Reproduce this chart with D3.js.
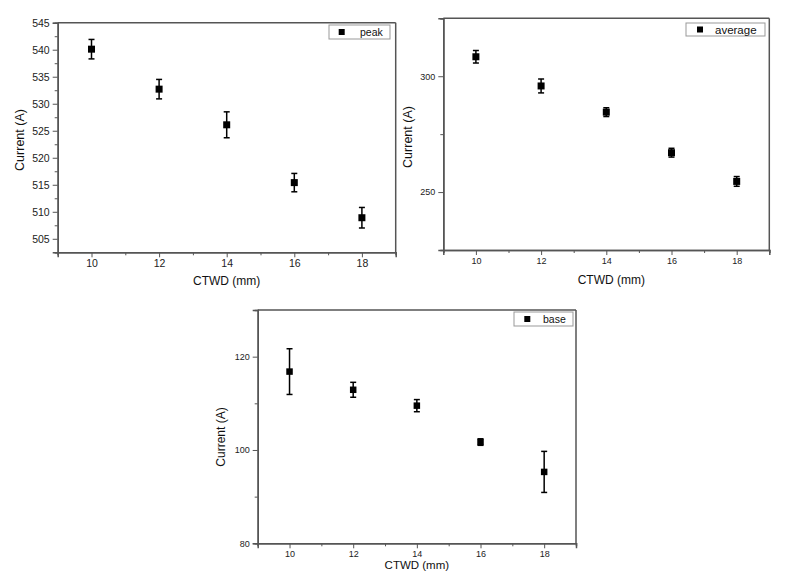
<!DOCTYPE html>
<html>
<head>
<meta charset="utf-8">
<script src="https://cdn.jsdelivr.net/npm/d3@7"></script>
<style>
  html, body { margin: 0; padding: 0; background: #fff; }
  svg { display: block; font-family: "Liberation Sans", Arial, sans-serif; }
</style>
</head>
<body>
<svg id="chart" width="791" height="583"></svg>
<script>
// ---- data ----
const ctwd = [10, 12, 14, 16, 18];
const xTicks = [10, 12, 14, 16, 18];

const peakValues = [540.1, 532.7, 526.1, 515.4, 508.9];
const peakErrors = [1.8, 1.8, 2.4, 1.7, 1.9];
const peakTicks = [505, 510, 515, 520, 525, 530, 535, 540, 545];

const averageValues = [308.4, 295.8, 284.5, 267.0, 254.6];
const averageErrors = [2.7, 3.0, 1.9, 1.9, 2.1];
const averageTicks = [250, 300];

const baseValues = [116.8, 112.9, 109.5, 101.7, 95.3];
const baseErrors = [4.9, 1.6, 1.3, 0.7, 4.4];
const baseTicks = [80, 100, 120];

const svg = d3.select("#chart");

function drawPanel(cfg) {
  const g = svg.append("g");
  const x = d3.scaleLinear().domain([9, 19]).range([cfg.left, cfg.right]);
  const y = d3.scaleLinear().domain(cfg.yDomain).range([cfg.bottom, cfg.top]);
  const axisColor = "#555";

  // frame (top & right)
  g.append("line").attr("x1", cfg.left).attr("x2", cfg.right).attr("y1", cfg.top).attr("y2", cfg.top)
    .attr("stroke", axisColor).attr("stroke-width", 1.5);
  g.append("line").attr("x1", cfg.right).attr("x2", cfg.right).attr("y1", cfg.top).attr("y2", cfg.bottom)
    .attr("stroke", axisColor).attr("stroke-width", 1.5);

  // minor ticks
  const xMinor = d3.range(9, 19.01, 1).filter(v => !xTicks.includes(v));
  const xMinorAxis = d3.axisBottom(x).tickValues(xMinor).tickSize(3).tickFormat("");
  const ga1 = g.append("g").attr("transform", `translate(0,${cfg.bottom})`).call(xMinorAxis);
  const yMinorAxis = d3.axisLeft(y).tickValues(cfg.yMinor).tickSize(3).tickFormat("");
  const ga2 = g.append("g").attr("transform", `translate(${cfg.left},0)`).call(yMinorAxis);

  // major axes
  const xAxis = d3.axisBottom(x).tickValues(xTicks).tickSize(5).tickPadding(cfg.xPad).tickFormat(d3.format("d"));
  const gx = g.append("g").attr("transform", `translate(0,${cfg.bottom})`).call(xAxis);
  const yAxis = d3.axisLeft(y).tickValues(cfg.yTicks).tickSize(5).tickPadding(3).tickFormat(d3.format("d"));
  const gy = g.append("g").attr("transform", `translate(${cfg.left},0)`).call(yAxis);

  [ga1, ga2, gx, gy].forEach(a => {
    a.select(".domain").attr("stroke", axisColor).attr("stroke-width", 1.5);
    a.selectAll(".tick line").attr("stroke", axisColor).attr("stroke-width", 1);
    a.selectAll(".tick text").attr("fill", "#222").style("font-size", cfg.tickFont + "px")
      .style("font-family", "'Liberation Sans', Arial, sans-serif");
  });

  // error bars
  const cap = 3;
  const eb = g.append("g");
  ctwd.forEach((c, i) => {
    const v = cfg.values[i], e = cfg.errors[i];
    const cx = x(c);
    eb.append("line").attr("x1", cx).attr("x2", cx).attr("y1", y(v - e)).attr("y2", y(v + e))
      .attr("stroke", "#000").attr("stroke-width", 1.5);
    [v - e, v + e].forEach(t => {
      eb.append("line").attr("x1", cx - cap).attr("x2", cx + cap).attr("y1", y(t)).attr("y2", y(t))
        .attr("stroke", "#000").attr("stroke-width", 1.5);
    });
  });

  // markers
  const s = cfg.marker;
  g.append("g").selectAll("rect").data(ctwd).join("rect")
    .attr("x", d => x(d) - s / 2)
    .attr("y", (d, i) => y(cfg.values[i]) - s / 2)
    .attr("width", s).attr("height", s).attr("fill", "#000");

  // axis labels
  g.append("text").attr("x", (cfg.left + cfg.right) / 2 + cfg.xLabelDx).attr("y", cfg.xLabelY)
    .attr("text-anchor", "middle").style("font-size", cfg.xLabelFont + "px").attr("fill", "#111").text("CTWD (mm)");
  g.append("text")
    .attr("transform", `translate(${cfg.yLabelX},${cfg.yLabelCY}) rotate(-90)`)
    .attr("text-anchor", "middle").style("font-size", cfg.yLabelFont + "px").attr("fill", "#111").text("Current (A)");

  // legend
  const L = cfg.legend;
  g.append("rect").attr("x", L.x).attr("y", L.y).attr("width", L.w).attr("height", L.h)
    .attr("fill", "#fff").attr("stroke", "#999").attr("stroke-width", 1);
  g.append("rect").attr("x", L.mx - 3).attr("y", L.y + L.h / 2 - 3).attr("width", 6).attr("height", 6).attr("fill", "#000");
  g.append("text").attr("x", L.tx).attr("y", L.y + L.h / 2 + 4).style("font-size", L.font + "px").attr("fill", "#111").text(cfg.name);
}

drawPanel({
  name: "peak", values: peakValues, errors: peakErrors,
  left: 57.7, right: 395.7, top: 22.7, bottom: 252.3,
  yDomain: [502.5, 545], yTicks: peakTicks, yMinor: [502.5, 507.5, 512.5, 517.5, 522.5, 527.5, 532.5, 537.5, 542.5],
  tickFont: 10.5, marker: 7, xPad: 2,
  xLabelY: 285, xLabelDx: 0, xLabelFont: 12, yLabelX: 24, yLabelCY: 140, yLabelFont: 12.5,
  legend: { x: 329, y: 25, w: 61, h: 14, mx: 341.7, tx: 360, font: 10.5 }
});

drawPanel({
  name: "average", values: averageValues, errors: averageErrors,
  left: 443.3, right: 769.3, top: 18.3, bottom: 250,
  yDomain: [225, 325], yTicks: averageTicks, yMinor: [225, 275, 325],
  tickFont: 9, marker: 7, xPad: 3,
  xLabelY: 284, xLabelDx: 5, xLabelFont: 12, yLabelX: 412, yLabelCY: 137, yLabelFont: 12.5,
  legend: { x: 686, y: 23, w: 79, h: 13, mx: 700, tx: 715, font: 11.5 }
});

drawPanel({
  name: "base", values: baseValues, errors: baseErrors,
  left: 257.7, right: 576, top: 310, bottom: 543.3,
  yDomain: [80, 130], yTicks: baseTicks, yMinor: [90, 110, 130],
  tickFont: 9, marker: 6.5, xPad: 2,
  xLabelY: 569, xLabelDx: 0, xLabelFont: 11.5, yLabelX: 225, yLabelCY: 437, yLabelFont: 12,
  legend: { x: 514, y: 312, w: 59, h: 14, mx: 527.3, tx: 543, font: 10.5 }
});
</script>
</body>
</html>
